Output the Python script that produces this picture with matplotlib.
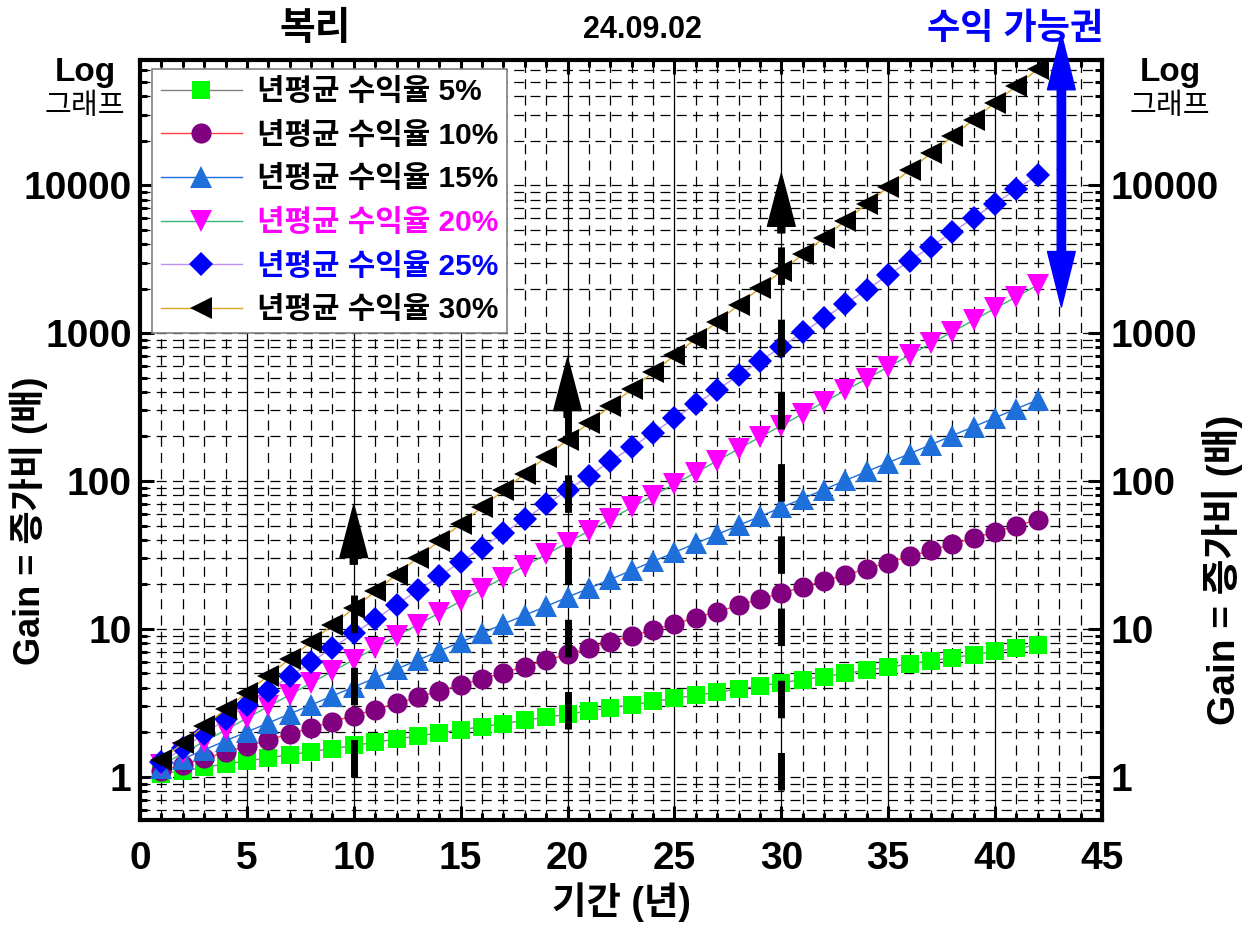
import matplotlib.pyplot as plt
from matplotlib.ticker import FixedLocator, LogLocator, NullFormatter, MultipleLocator

plt.rcParams['font.family'] = ['Liberation Sans', 'Noto Sans CJK KR']
plt.rcParams['font.weight'] = 'bold'

years = [1, 2, 3, 4, 5, 6, 7, 8, 9, 10, 11, 12, 13, 14, 15, 16, 17, 18, 19, 20, 21,
         22, 23, 24, 25, 26, 27, 28, 29, 30, 31, 32, 33, 34, 35, 36, 37, 38, 39, 40, 41, 42]

gain_5 = [1.05, 1.10, 1.16, 1.22, 1.28, 1.34, 1.41, 1.48, 1.55, 1.63, 1.71, 1.80, 1.89, 1.98,
          2.08, 2.18, 2.29, 2.41, 2.53, 2.65, 2.79, 2.93, 3.07, 3.23, 3.39, 3.56, 3.73, 3.92,
          4.12, 4.32, 4.54, 4.76, 5.00, 5.25, 5.52, 5.79, 6.08, 6.39, 6.70, 7.04, 7.39, 7.76]
gain_10 = [1.10, 1.21, 1.33, 1.46, 1.61, 1.77, 1.95, 2.14, 2.36, 2.59, 2.85, 3.14, 3.45, 3.80,
           4.18, 4.59, 5.05, 5.56, 6.12, 6.73, 7.40, 8.14, 8.95, 9.85, 10.8, 11.9, 13.1, 14.4,
           15.9, 17.4, 19.2, 21.1, 23.2, 25.5, 28.1, 30.9, 34.0, 37.4, 41.1, 45.3, 49.8, 54.8]
gain_15 = [1.15, 1.32, 1.52, 1.75, 2.01, 2.31, 2.66, 3.06, 3.52, 4.05, 4.65, 5.35, 6.15, 7.08,
           8.14, 9.36, 10.8, 12.4, 14.2, 16.4, 18.8, 21.6, 24.9, 28.6, 32.9, 37.9, 43.5, 50.1,
           57.6, 66.2, 76.1, 87.6, 101, 116, 133, 153, 176, 203, 233, 268, 308, 354]
gain_20 = [1.20, 1.44, 1.73, 2.07, 2.49, 2.99, 3.58, 4.30, 5.16, 6.19, 7.43, 8.92, 10.7, 12.8,
           15.4, 18.5, 22.2, 26.6, 31.9, 38.3, 46.0, 55.2, 66.2, 79.5, 95.4, 114, 137, 165,
           198, 237, 285, 342, 410, 492, 591, 709, 851, 1021, 1225, 1470, 1764, 2116]
gain_25 = [1.25, 1.56, 1.95, 2.44, 3.05, 3.81, 4.77, 5.96, 7.45, 9.31, 11.6, 14.6, 18.2, 22.7,
           28.4, 35.5, 44.4, 55.5, 69.4, 86.7, 108, 136, 169, 212, 265, 331, 414, 517,
           646, 808, 1010, 1262, 1578, 1972, 2465, 3081, 3852, 4815, 6019, 7523, 9404, 11755]
gain_30 = [1.30, 1.69, 2.20, 2.86, 3.71, 4.83, 6.27, 8.16, 10.6, 13.8, 17.9, 23.3, 30.3, 39.4,
           51.2, 66.5, 86.5, 112, 146, 190, 247, 321, 418, 543, 706, 917, 1193, 1550,
           2015, 2620, 3406, 4428, 5756, 7483, 9728, 12646, 16440, 21372, 27784, 36119, 46955, 61041]

labels = ['년평균 수익율 5%', '년평균 수익율 10%', '년평균 수익율 15%',
          '년평균 수익율 20%', '년평균 수익율 25%', '년평균 수익율 30%']

y_ticks = [1, 10, 100, 1000, 10000]
y_ticklabels = ['1', '10', '100', '1000', '10000']

# upward arrows (year, bottom, tip)
arrow_x = [10, 20, 30]
arrow_bottom = [1.0, 2.1, 0.82]
arrow_top = [69, 680, 12000]

series = [gain_5, gain_10, gain_15, gain_20, gain_25, gain_30]
markers = ['s', 'o', '^', 'v', 'D', '<']
msizes = [13, 14.5, 15.5, 15.5, 12, 15.5]
mcolors = ['#00ff00', '#800080', '#1f6fdb', '#ff00ff', '#0000ff', '#000000']
lcolors = ['#808080', '#ff4040', '#1f6fdb', '#3cb371', '#c090f0', '#daa520']
tcolors = ['black', 'black', 'black', '#ff00ff', '#0000ff', 'black']

fig = plt.figure(figsize=(12.5, 9.27), dpi=100)
ax = fig.add_axes([0.112, 0.1154, 0.7696, 0.8196])

for vals, mk, ms, mc, lc, lab in zip(series, markers, msizes, mcolors, lcolors, labels):
    ax.plot(years, vals, color=lc, lw=1, marker=mk, ms=ms, mfc=mc, mec=mc, mew=0,
            label=lab, zorder=3)

ax.set_yscale('log')
ax.set_xlim(0, 45)
ax.set_ylim(0.51, 70000)

ax.xaxis.set_major_locator(MultipleLocator(5))
ax.xaxis.set_minor_locator(MultipleLocator(1))
ax.yaxis.set_major_locator(FixedLocator(y_ticks))
ax.set_yticklabels(y_ticklabels)
ax.yaxis.set_minor_locator(LogLocator(base=10, subs=[2, 3, 4, 5, 6, 7, 8, 9]))
ax.yaxis.set_minor_formatter(NullFormatter())

# grid
ax.grid(which='major', axis='x', color='black', lw=0.9, ls='-', zorder=1)
ax.grid(which='minor', axis='x', color='black', lw=0.9, ls=(0, (8, 5)), zorder=1)
ax.grid(which='both', axis='y', color='black', lw=0.9, ls=(0, (8, 5)), zorder=1)
ax.set_axisbelow(True)

for s in ax.spines.values():
    s.set_linewidth(3)

ax.tick_params(which='both', direction='in', top=True, right=True, labelright=True,
               width=2.2, labelsize=28)
ax.tick_params(which='major', length=10)
ax.tick_params(which='minor', length=5)
ax.tick_params(axis='x', pad=15)
ax.tick_params(axis='y', pad=6)

# dashed arrows
for x, b, t in zip(arrow_x, arrow_bottom, arrow_top):
    base = t / 10 ** 0.36
    ax.plot([x, x], [b, base], color='black', lw=5, ls=(0, (5.4, 5.0)),
            solid_capstyle='butt', dash_capstyle='butt', zorder=5)
    ax.annotate('', xy=(x, t), xytext=(x, base / 1.1),
                arrowprops=dict(facecolor='black', edgecolor='black', width=5,
                                headwidth=20, headlength=38, shrink=0), zorder=6)

# blue double arrow
bx = 43.1
mid = 12700
for end in (1.05e5, 1500):
    ax.annotate('', xy=(bx, end), xytext=(bx, mid), annotation_clip=False,
                arrowprops=dict(facecolor='#0000ff', edgecolor='#0000ff', width=6,
                                headwidth=20, headlength=40, shrink=0, clip_on=False),
                zorder=7)

leg = ax.legend(loc='upper left', bbox_to_anchor=(0.0125, 0.988), borderaxespad=0,
                fontsize=21.5, handlelength=2.7, numpoints=1, fancybox=False,
                framealpha=1, edgecolor='#808080', labelspacing=0.52,
                handletextpad=0.5, borderpad=0.3)
leg.get_frame().set_linewidth(1.2)
for txt, c in zip(leg.get_texts(), tcolors):
    txt.set_color(c)

ax.set_xlabel('기간 (년)', fontsize=27, fontweight='bold', labelpad=4)
fig.text(0.023, 0.438, 'Gain = 증가비 (배)', fontsize=26, rotation=90,
         ha='center', va='center')
fig.text(0.978, 0.385, 'Gain = 증가비 (배)', fontsize=28, rotation=90,
         ha='center', va='center')

fig.text(0.252, 0.968, '복리', fontsize=28, ha='center', va='center')
fig.text(0.514, 0.968, '24.09.02', fontsize=22, ha='center', va='center')
fig.text(0.812, 0.968, '수익 가능권', fontsize=26, ha='center', va='center', color='#0000ff')
fig.text(0.068, 0.922, 'Log', fontsize=24, ha='center', va='center')
fig.text(0.068, 0.886, '그래프', fontsize=21, ha='center', va='center', weight='medium')
fig.text(0.936, 0.922, 'Log', fontsize=24, ha='center', va='center')
fig.text(0.936, 0.886, '그래프', fontsize=21, ha='center', va='center', weight='medium')

fig.savefig('out.png', dpi=100)
